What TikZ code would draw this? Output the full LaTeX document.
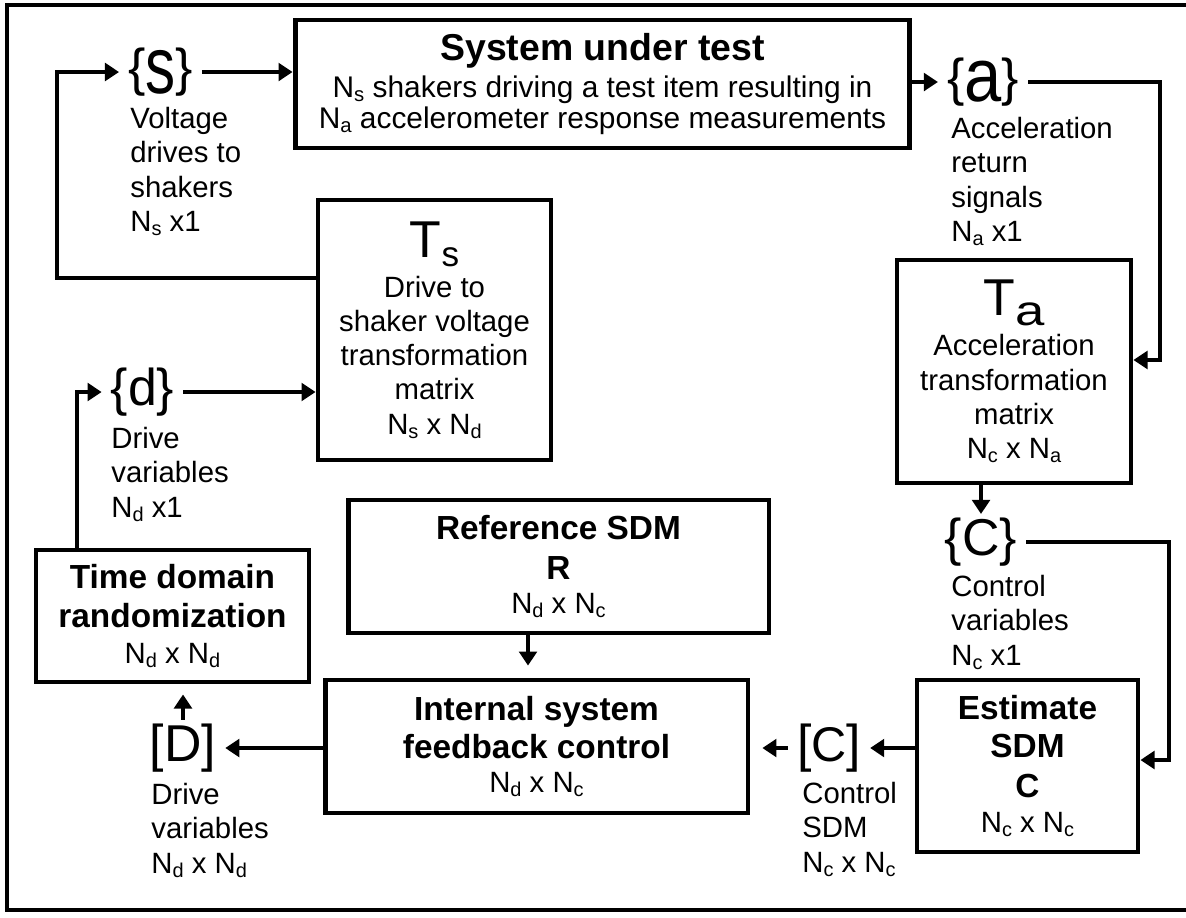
\documentclass[tikz,border=0pt]{standalone}
\usepackage{fontspec}
\setmainfont{Liberation Sans}
\usepackage{graphicx}
\usetikzlibrary{arrows.meta}

% subscripted dimension N_x
\newcommand{\Nsub}[1]{N\raisebox{-0.14em}{\scalebox{0.68}{#1}}}
\newcommand{\symfont}{\fontsize{29.5}{30}\selectfont}
\newcommand{\ttl}{\bfseries\fontsize{19}{20}\selectfont}

\begin{document}
\begin{tikzpicture}[
  x=0.02cm, y=-0.02cm,
  blk/.style={draw, line width=2.8pt, align=center, inner sep=0pt, font=\fontsize{16.7}{19.5}\selectfont},
  vec/.style={inner xsep=5pt, inner ysep=2pt, font=\symfont},
  note/.style={anchor=north west, align=left, inner sep=0pt, font=\fontsize{16.7}{19.5}\selectfont},
  flow/.style={line width=2.3pt, -{Triangle[length=8pt,width=10pt]}},
]
\useasboundingbox (0,0) rectangle (1186,917);
\draw[line width=2pt] (1200,5) -- (7,5) -- (7,910) -- (1200,910);

% ---------- blocks ----------
\node[blk, minimum width=12.3cm, minimum height=2.56cm, font=\fontsize{17}{17.6}\selectfont] (sut) at (602.5,84)
  {{\bfseries\fontsize{21.3}{22}\selectfont System under test}\\[3.4pt]
   \Nsub{s} shakers driving a test item resulting in\\
   \Nsub{a} accelerometer response measurements};
\node[blk, minimum width=4.66cm, minimum height=5.2cm] (ts) at (434.5,330)
  {{\symfont T}\raisebox{-5pt}{\fontsize{20}{20}\selectfont s}\\[3.2pt]
   Drive to\\shaker voltage\\transformation\\matrix\\\Nsub{s} x \Nsub{d}};
\node[blk, minimum width=4.68cm, minimum height=4.46cm] (ta) at (1014,371.5)
  {{\symfont T}\raisebox{-5.5pt}{\fontsize{24}{24}\selectfont\scalebox{1.25}[1]{a}}\\[3.2pt]
   Acceleration\\transformation\\matrix\\\Nsub{c} x \Nsub{a}};
\node[blk, minimum width=8.42cm, minimum height=2.66cm] (ref) at (558.5,566.5)
  {{\ttl Reference SDM}\\[3.4pt]{\ttl R}\\\Nsub{d} x \Nsub{c}};
\node[blk, minimum width=8.46cm, minimum height=2.66cm] (isfc) at (536.5,746.5)
  {{\ttl Internal system}\\[2.2pt]{\ttl feedback control}\\\Nsub{d} x \Nsub{c}};
\node[blk, minimum width=5.46cm, minimum height=2.64cm] (tdr) at (172.5,616)
  {{\ttl Time domain}\\[2.2pt]{\ttl randomization}\\[1pt]\Nsub{d} x \Nsub{d}};
\node[blk, minimum width=4.42cm, minimum height=3.44cm] (est) at (1027.5,766)
  {{\ttl Estimate}\\[2.2pt]{\ttl SDM}\\[3.4pt]{\ttl C}\\[0.5pt]\Nsub{c} x \Nsub{c}};

% ---------- vectors and matrices ----------
\node[vec] (vs) at (160.5,72) {\{\raisebox{-0.15em}{\scalebox{1.16}[1.55]{s}}\}};
\node[vec] (va) at (983,82) {\{\raisebox{-0.125em}{\scalebox{1.29}[1.45]{a}}\}};
\node[vec] (vd) at (142.5,392) {\{d\}};
\node[vec] (vc) at (981,542) {\{C\}};
\node[vec] (vD) at (183,748) {[D]};
\node[vec] (vC) at (829,748) {[\scalebox{0.94}{C}]};

\node[note] (vslab) at (130,107) {Voltage\\drives to\\shakers\\\Nsub{s} x1};
\node[note] (valab) at (951,117) {Acceleration\\return\\signals\\\Nsub{a} x1};
\node[note] (vdlab) at (111,427) {Drive\\variables\\\Nsub{d} x1};
\node[note] (vclab) at (951,575) {Control\\variables\\\Nsub{c} x1};
\node[note] (vDlab) at (151,783) {Drive\\variables\\\Nsub{d} x \Nsub{d}};
\node[note] (vClab) at (802,782) {Control\\SDM\\\Nsub{c} x \Nsub{c}};

% ---------- bends ----------
\coordinate (sx) at (57,278);
\coordinate (ax) at (1160,360);
\coordinate (cx) at (1169,760);
\coordinate (dx) at (77,550);
\coordinate (rx) at (528,633);

% ---------- signal flow ----------
\draw[flow] (vs.east) -- (vs.east -| sut.west);
\draw[flow] (sx -| ts.west) -- (sx) |- (vs.west);
\draw[flow] (sut.east |- va.west) -- (va.west);
\draw[flow] (va.east) -| (ax) -- (ax -| ta.east);
\draw[flow] (ta.south -| vc.north) -- (vc.north);
\draw[flow] (vc.east) -| (cx) -- (cx -| est.east);
\draw[flow] (est.west |- vC.east) -- (vC.east);
\draw[flow, shorten >=6.8pt] (vC.west) -- (vC.west -| isfc.east);
\draw[flow] (isfc.west |- vD.east) -- (vD.east);
\draw[flow, shorten >=5.7pt] (vD.north) -- (vD.north |- tdr.south);
\draw[flow] (dx |- tdr.north) |- (vd.west);
\draw[flow] (vd.east) -- (vd.east -| ts.west);
\draw[flow, shorten >=6.8pt] (rx |- ref.south) -- (rx |- isfc.north);

\end{tikzpicture}
\end{document}
